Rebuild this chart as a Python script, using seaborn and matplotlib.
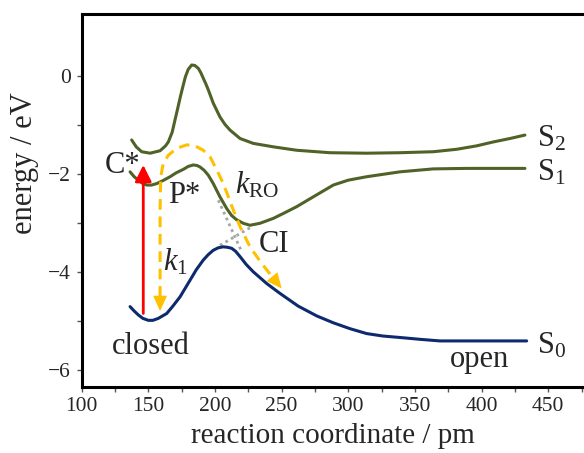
import numpy as np
import pandas as pd
import matplotlib.pyplot as plt
from matplotlib.ticker import MultipleLocator, FixedLocator
import seaborn as sns

#------------------------------------------------
#potential energy curves
s2_x = [137.6, 141, 145.1, 151.4, 158.9, 163, 165.1, 168, 170.1, 172, 174.1, 176, 177.9, 180,
        182.6, 185, 187.6, 189.5, 191.3, 193.3, 195.1, 198.8, 203.8, 207.5, 211.4, 218.9, 228.8,
        243.8, 261.4, 286.3, 313.8, 338.8, 363.8, 381.3, 396.3, 408.8, 421.3, 432.5]
s2_y = [-1.31, -1.45, -1.55, -1.58, -1.53, -1.43, -1.35, -1.15, -0.90, -0.68, -0.43, -0.22, -0.02, 0.13,
        0.22, 0.21, 0.15, 0.06, -0.05, -0.17, -0.29, -0.56, -0.84, -0.99, -1.11, -1.28, -1.38,
        -1.45, -1.52, -1.57, -1.58, -1.57, -1.55, -1.50, -1.43, -1.35, -1.28, -1.21]

s1_x = [136.4, 139.5, 142.6, 145.5, 148.9, 152.5, 156.4, 161, 166.4, 171, 176.3, 180, 183.8, 186.5,
        188.8, 192, 195.1, 198.8, 203.8, 208.9, 212.5, 216.4, 221.3, 226.3, 233.8, 243.8, 252,
        261.4, 273.8, 288.8, 300, 313.8, 338.8, 363.8, 388.8, 432.5]
s1_y = [-1.96, -2.06, -2.13, -2.19, -2.23, -2.23, -2.20, -2.14, -2.06, -1.98, -1.91, -1.85, -1.82, -1.83,
        -1.86, -1.93, -2.03, -2.20, -2.47, -2.71, -2.85, -2.94, -3.01, -3.05, -3.01, -2.91, -2.80,
        -2.67, -2.47, -2.23, -2.13, -2.06, -1.96, -1.90, -1.89, -1.89]

s0_x = [136.4, 139.5, 142.6, 146, 150.1, 153.5, 157.6, 163.9, 168.5, 173.9, 181.4, 186, 191.3, 195,
        198.8, 202.5, 206.3, 209.5, 212.6, 215.5, 218.9, 223.5, 228.8, 238.9, 248.8, 262.5, 276.4,
        288.8, 301.3, 313.8, 326, 338.8, 355, 368.8, 401.3, 433.8]
s0_y = [-4.71, -4.80, -4.88, -4.95, -4.99, -4.99, -4.95, -4.85, -4.70, -4.51, -4.17, -3.96, -3.76, -3.65,
        -3.56, -3.51, -3.49, -3.50, -3.52, -3.58, -3.69, -3.85, -4.00, -4.24, -4.44, -4.70, -4.90,
        -5.04, -5.16, -5.26, -5.31, -5.34, -5.38, -5.41, -5.41, -5.41]

#relaxation path (yellow dashed)
path_x = [158.9, 158.9, 159.4, 161.3, 165.1, 171.4, 178.9, 185.1, 191.3, 196.3, 201.4, 206.3,
          210.1, 213.8, 218.9, 226.3, 235.1, 243.5]
path_y = [-4.51, -2.74, -2.06, -1.79, -1.62, -1.48, -1.41, -1.43, -1.52, -1.65, -1.92, -2.20,
          -2.47, -2.74, -3.08, -3.49, -3.83, -4.12]

#conical intersection guide lines
ci_a_x = [202.6, 220.1]
ci_a_y = [-2.54, -3.59]
ci_b_x = [203.8, 227.6]
ci_b_y = [-3.46, -3.08]

#excitation arrow
exc_x = 146.3
exc_y = [-4.85, -1.82]

x_ticks = [100, 150, 200, 250, 300, 350, 400, 450]
y_ticks = [-6, -4, -2, 0]

#------------------------------------------------
sns.set_style('ticks')
plt.rcParams['font.family'] = ['Liberation Serif', 'DejaVu Serif']
plt.rcParams['mathtext.fontset'] = 'custom'
plt.rcParams['mathtext.rm'] = 'Liberation Serif'
plt.rcParams['mathtext.it'] = 'Liberation Serif:italic'

green = '#4F6228'
navy = '#0E2A6E'
yellow = '#FFC000'

df = pd.concat([
    pd.DataFrame({'x': s2_x, 'energy': s2_y, 'state': 'S2'}),
    pd.DataFrame({'x': s1_x, 'energy': s1_y, 'state': 'S1'}),
    pd.DataFrame({'x': s0_x, 'energy': s0_y, 'state': 'S0'}),
], ignore_index=True)

fig = plt.figure(figsize=(5.84, 4.53), dpi=100)
ax = fig.add_axes([0.1396, 0.1457, 0.8604, 0.8223])

#gray dotted crossing
ax.plot(ci_a_x, ci_a_y, color='#A6A6A6', lw=2, ls=(0, (1, 1.3)))
ax.plot(ci_b_x, ci_b_y, color='#A6A6A6', lw=2, ls=(0, (1, 1.3)))

sns.lineplot(data=df, x='x', y='energy', hue='state', units='state', estimator=None, sort=False,
             palette={'S2': green, 'S1': green, 'S0': navy}, lw=2.2, legend=False, ax=ax)

#yellow path + heads
ax.plot(path_x, path_y, color=yellow, lw=2.2, ls=(0, (3.5, 2.2)), dash_capstyle='butt')
head = dict(arrowstyle='-|>,head_length=0.55,head_width=0.25', color=yellow, lw=0,
            shrinkA=0, shrinkB=0, mutation_scale=20)
ax.annotate('', xy=(path_x[0], -4.80), xytext=(path_x[0], path_y[0]), arrowprops=head)
ax.annotate('', xy=(250.1, -4.34), xytext=(path_x[-1], path_y[-1]), arrowprops=head)

#red excitation arrow
ax.annotate('', xy=(exc_x, exc_y[1]), xytext=(exc_x, exc_y[0]),
            arrowprops=dict(arrowstyle='-|>,head_length=0.5,head_width=0.25', color='#FF0000',
                            lw=2, shrinkA=0, shrinkB=0, mutation_scale=20))

#labels
fs = 22
ax.text(117.6, -1.99, 'C*', fontsize=fs, ha='left', va='baseline')
ax.text(165.1, -2.60, 'P*', fontsize=fs, ha='left', va='baseline')
ax.text(215.1, -2.40, r'$k_{\mathrm{RO}}$', fontsize=fs, ha='left', va='baseline')
ax.text(232.6, -3.59, 'CI', fontsize=fs, ha='left', va='baseline')
ax.text(161.3, -3.97, r'$k_1$', fontsize=fs, ha='left', va='baseline')
ax.text(122.6, -5.67, 'closed', fontsize=fs, ha='left', va='baseline')
ax.text(376.3, -5.94, 'open', fontsize=fs, ha='left', va='baseline')
ax.text(441.3, -1.45, r'$\mathrm{S}_2$', fontsize=fs, ha='left', va='baseline')
ax.text(441.3, -2.13, r'$\mathrm{S}_1$', fontsize=fs, ha='left', va='baseline')
ax.text(441.3, -5.66, r'$\mathrm{S}_0$', fontsize=fs, ha='left', va='baseline')

#axes
ax.set_xlim(100, 476.8)
ax.set_ylim(-6.35, 1.25)
ax.set_xticks(x_ticks)
ax.set_yticks(y_ticks)
ax.xaxis.set_minor_locator(FixedLocator([125, 175, 225, 275, 325, 375, 425, 475]))
ax.yaxis.set_minor_locator(FixedLocator([-5, -3, -1]))
ax.tick_params(axis='both', which='both', direction='out', length=3.5, width=1, color='#555555',
               labelsize=15.5, pad=4)
for s in ['left', 'bottom', 'top']:
    ax.spines[s].set_linewidth(2.2)
    ax.spines[s].set_color('black')
ax.spines['right'].set_visible(False)

ax.set_xlabel('reaction coordinate / pm', fontsize=21)
ax.set_ylabel('energy / eV', fontsize=22)
ax.yaxis.set_label_coords(-0.085, 0.60)
ax.xaxis.set_label_coords(0.5, -0.097)

fig.savefig('out.png', dpi=100)
plt.close()
